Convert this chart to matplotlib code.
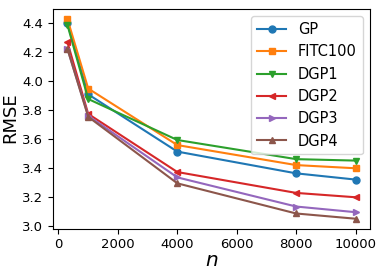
import matplotlib
matplotlib.use("Agg")
import matplotlib.pyplot as plt

n_values = [300, 1000, 4000, 8000, 10000]
labels = ["GP", "FITC100", "DGP1", "DGP2", "DGP3", "DGP4"]
gp = [4.40, 3.91, 3.515, 3.365, 3.322]
fitc100 = [4.43, 3.95, 3.56, 3.422, 3.40]
dgp1 = [4.39, 3.878, 3.595, 3.463, 3.453]
dgp2 = [4.27, 3.775, 3.374, 3.23, 3.20]
dgp3 = [4.225, 3.762, 3.337, 3.136, 3.097]
dgp4 = [4.225, 3.755, 3.296, 3.088, 3.052]
series = [gp, fitc100, dgp1, dgp2, dgp3, dgp4]
markers = ["o", "s", "v", "<", ">", "^"]

fig = plt.figure(figsize=(3.82, 2.74), dpi=100)
ax = fig.add_axes([53/382, 1 - 228.7/274, (370-53)/382, (228.7-9)/274])
for lab, ys, m in zip(labels, series, markers):
    ax.plot(n_values, ys, marker=m, markersize=5, label=lab)
ax.tick_params(labelsize=9.5)
ax.set_xticks([0, 2000, 4000, 6000, 8000, 10000])
ax.set_yticks([3.0, 3.2, 3.4, 3.6, 3.8, 4.0, 4.2, 4.4])
ax.set_xlabel("$n$", fontsize=14.5, labelpad=0)
ax.set_ylabel("RMSE", fontsize=13)
ax.yaxis.set_label_coords(-0.108, 0.505)
ax.legend(fontsize=10.5)
fig.savefig("out.png", dpi=100)
